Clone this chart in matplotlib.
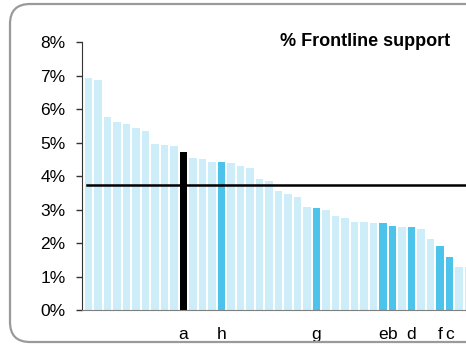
import matplotlib
matplotlib.use("Agg")
import matplotlib.pyplot as plt
from matplotlib.patches import FancyBboxPatch
from matplotlib.ticker import FuncFormatter

# share of frontline support per unit, sorted descending (percent)
support_pct = [6.93, 6.88, 5.76, 5.63, 5.55, 5.43, 5.34, 4.95, 4.93, 4.90,
               4.72, 4.53, 4.51, 4.43, 4.41, 4.39, 4.30, 4.25, 3.91, 3.85,
               3.55, 3.47, 3.37, 3.07, 3.04, 2.99, 2.82, 2.76, 2.64, 2.64,
               2.59, 2.60, 2.50, 2.49, 2.47, 2.41, 2.12, 1.92, 1.58, 1.28,
               1.28]
# labelled units: position in the sorted list -> label
labelled = {10: "a", 14: "h", 24: "g", 31: "e", 32: "b", 34: "d", 37: "f", 38: "c"}
highlight_dark = [10]
average_pct = 3.74
title = "% Frontline support"

plt.rcParams['font.family'] = ['Liberation Sans', 'DejaVu Sans']

fig = plt.figure(figsize=(4.66, 3.45), dpi=100)

# rounded frame around the chart (cut off on the right, like the original)
frame = FancyBboxPatch((0.10, 0.03), 6.0, 3.38,
                       boxstyle="round,pad=0,rounding_size=0.2",
                       transform=fig.dpi_scale_trans, facecolor="none",
                       edgecolor="#9a9a9a", linewidth=1.6, zorder=0)
fig.patches.append(frame)

ax = fig.add_axes([82.3 / 466, 35 / 345, 1 - 82.3 / 466, 267.7 / 345])
ax.patch.set_visible(False)

x = list(range(len(support_pct)))
colors = []
for i in x:
    if i in highlight_dark:
        colors.append("black")
    elif i in labelled:
        colors.append("#4cc3ea")
    else:
        colors.append("#cdedf9")
ax.bar(x, support_pct, width=0.77, color=colors, zorder=2)

ax.axhline(average_pct, xmin=0.012, color="black", linewidth=1.8, zorder=3)

ax.set_xlim(-0.64, 39.75)
ax.set_ylim(0, 8)
ax.set_yticks(range(0, 9))
ax.yaxis.set_major_formatter(FuncFormatter(lambda v, p: f"{int(v)}%"))
ax.set_xticks(list(labelled.keys()))
ax.set_xticklabels(list(labelled.values()))

ax.tick_params(axis="y", direction="out", length=4, width=1, color="#333333",
               pad=8, labelsize=12.5)
ax.tick_params(axis="x", length=0, pad=12, labelsize=12.5)

ax.spines['top'].set_visible(False)
ax.spines['right'].set_visible(False)
ax.spines['left'].set_color("#333333")
ax.spines['bottom'].set_color("#7f7f7f")

fig.text(365 / 466, (345 - 42) / 345, title, ha="center", va="center",
         fontsize=13, fontweight="bold")

fig.savefig("out.png", dpi=100)
